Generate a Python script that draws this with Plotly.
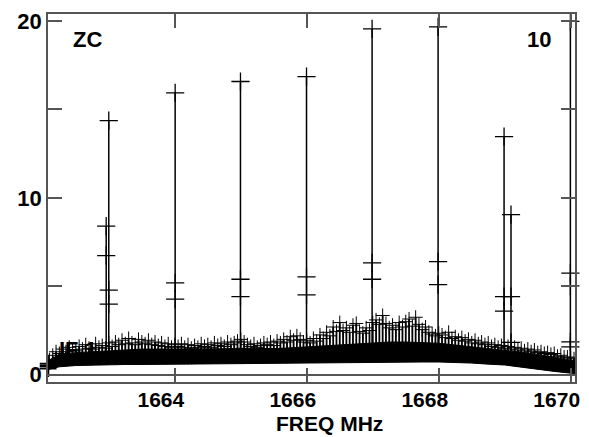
import numpy as np
import plotly.graph_objects as go

# ---------------- data ----------------
# solid bandpass envelope (MHz, lower, upper)
env_freq = [1662.08, 1662.25, 1662.50, 1662.75, 1663.00, 1663.25, 1663.50, 1663.75,
            1664.00, 1664.25, 1664.50, 1664.75, 1665.00, 1665.25, 1665.50, 1665.75,
            1666.00, 1666.25, 1666.50, 1666.75, 1667.00, 1667.25, 1667.50, 1667.75,
            1668.00, 1668.25, 1668.50, 1668.75, 1669.00, 1669.25, 1669.50, 1669.75,
            1670.00, 1670.07]
env_lo = [0.30, 0.45, 0.52, 0.55, 0.57, 0.58, 0.58, 0.59,
          0.60, 0.60, 0.61, 0.62, 0.63, 0.63, 0.64, 0.66,
          0.68, 0.69, 0.70, 0.70, 0.70, 0.71, 0.72, 0.72,
          0.72, 0.70, 0.66, 0.60, 0.55, 0.43, 0.30, 0.19,
          0.09, 0.07]
env_hi = [0.80, 1.15, 1.25, 1.30, 1.38, 1.42, 1.45, 1.45,
          1.45, 1.45, 1.45, 1.47, 1.50, 1.47, 1.48, 1.52,
          1.58, 1.62, 1.70, 1.75, 1.80, 1.85, 1.85, 1.82,
          1.78, 1.68, 1.58, 1.48, 1.40, 1.28, 1.15, 1.00,
          0.85, 0.78]

# channel tops of the noisy spectrum (start 1662.10 MHz, 0.05 MHz channels)
chan_start = 1662.10
chan_width = 0.05
chan_top = [0.85, 1.10, 1.30, 1.20, 1.45, 1.30, 1.55, 1.40, 1.35, 1.60,
            1.45, 1.70, 1.50, 1.45, 1.75, 1.55, 1.65, 1.50, 1.80,
            1.60, 1.85, 1.70, 1.95, 1.75, 2.05, 1.80, 1.70, 2.00, 1.85,
            1.75, 1.95, 1.70, 1.85, 1.65, 1.80, 1.60, 1.75, 1.55, 1.70,
            1.60, 1.75, 1.55, 1.70, 1.50, 1.65, 1.55, 1.75, 1.60, 1.70,
            1.55, 1.80, 1.65, 1.75, 1.60, 1.85, 1.70, 1.80, 1.90, 2.00,
            1.85, 1.70, 1.60, 1.75, 1.55, 1.65, 1.80, 1.70, 1.85, 1.65,
            1.90, 1.80, 2.00, 1.85, 2.15, 1.95, 2.20, 2.00, 1.85, 1.95,
            1.80, 2.05, 1.90, 2.25, 2.05, 2.40, 2.20, 2.70, 2.45, 2.95,
            2.50, 2.65, 2.40, 2.80, 2.90, 2.45, 2.35, 2.65, 2.50, 2.95,
            3.10, 2.85, 3.35, 2.90, 2.65, 2.80, 2.55, 2.95, 2.70, 3.00,
            3.15, 2.75, 3.25, 2.85, 2.55, 2.70, 2.40, 2.30, 2.20, 2.35,
            2.25, 2.10, 2.40, 2.05, 2.15, 1.95, 2.10, 1.90, 2.00, 1.80,
            1.95, 1.75, 1.85, 1.70, 1.80, 1.60, 1.70, 1.55, 1.65, 1.50,
            1.60, 1.45, 1.55, 1.40, 1.50, 1.35, 1.45, 1.30, 1.40, 1.25,
            1.30, 1.20, 1.25, 1.15, 1.20, 1.05, 1.10, 1.00, 1.00, 0.95,
            0.90, 0.85]

# RFI spikes: frequency (MHz) and the plotted amplitudes at that channel
spike_freq = [1662.960, 1662.999, 1664.005, 1664.995, 1665.996, 1666.990,
              1667.990, 1668.990, 1669.095, 1669.995]
spike_vals = [[8.40, 6.73],
              [14.37, 4.78, 3.99],
              [15.94, 5.19, 4.27],
              [16.58, 5.40, 4.42],
              [16.86, 5.53, 4.51],
              [19.55, 6.32, 5.40],
              [19.67, 6.40, 5.10],
              [13.46, 4.42, 3.60],
              [9.05, 4.42, 1.83],
              [19.98, 5.75, 5.02, 1.86, 1.58]]

# edge channels drawn just outside the frame
edge_freq = [1662.08, 1662.08, 1662.08, 1670.08, 1670.08]
edge_vals = [0.35, 0.50, 0.62, 0.22, 0.35]

x_ticks = [1664, 1666, 1668, 1670]
y_ticks = [0, 5, 10, 15, 20]
y_ticktext = ["0", "", "10", "", "20"]

# ---------------- figure ----------------
FONT = "Liberation Sans, Arial, sans-serif"
BLACK = "#000000"
FRAME = "#555555"
FS = 22
FSX = 21

fig = go.Figure()

# solid band
fig.add_trace(go.Scatter(x=env_freq, y=env_lo, mode="lines",
                         line=dict(color=BLACK, width=1), showlegend=False,
                         hoverinfo="skip"))
fig.add_trace(go.Scatter(x=env_freq, y=env_hi, mode="lines", fill="tonexty",
                         fillcolor=BLACK, line=dict(color=BLACK, width=1),
                         showlegend=False, hoverinfo="skip"))

# channel stems
chan_freq = [chan_start + i * chan_width for i in range(len(chan_top))]
base = np.interp(chan_freq, env_freq, env_lo)
sx, sy = [], []
for f, b, t in zip(chan_freq, base, chan_top):
    sx += [f, f, None]
    sy += [b, t, None]
fig.add_trace(go.Scatter(x=sx, y=sy, mode="lines",
                         line=dict(color=BLACK, width=1.8), showlegend=False,
                         hoverinfo="skip"))
fig.add_trace(go.Scatter(x=chan_freq, y=chan_top, mode="markers",
                         marker=dict(symbol="cross-thin", size=10,
                                     line=dict(color=BLACK, width=1)),
                         showlegend=False, hoverinfo="skip"))

# spikes
kx, ky, mx, my = [], [], [], []
for f, vals in zip(spike_freq, spike_vals):
    b = float(np.interp(f, env_freq, env_hi))
    kx += [f, f, None]
    ky += [b, max(vals), None]
    mx += [f] * len(vals)
    my += vals
fig.add_trace(go.Scatter(x=kx, y=ky, mode="lines",
                         line=dict(color=BLACK, width=1.5), showlegend=False,
                         hoverinfo="skip"))
fig.add_trace(go.Scatter(x=mx, y=my, mode="markers", cliponaxis=False,
                         marker=dict(symbol="cross-thin", size=13,
                                     line=dict(color=BLACK, width=1.3)),
                         showlegend=False, hoverinfo="skip"))
fig.add_trace(go.Scatter(x=edge_freq, y=edge_vals, mode="markers", cliponaxis=False,
                         marker=dict(symbol="cross-thin", size=12,
                                     line=dict(color=BLACK, width=2)),
                         showlegend=False, hoverinfo="skip"))

axis_common = dict(showgrid=False, showline=True, linecolor=FRAME, linewidth=1.5,
                   mirror="allticks", ticks="inside", ticklen=14, tickwidth=1.5,
                   tickcolor=FRAME)

fig.update_xaxes(range=[1662.078, 1670.065], tickvals=x_ticks,
                 ticktext=[str(v) for v in x_ticks], zeroline=False,
                 ticklabelshift=-14, ticklabelstandoff=-2,
                 tickfont=dict(family=FONT, size=FSX, color=BLACK, weight="bold"),
                 **axis_common)
fig.update_yaxes(range=[-0.41, 20.395], tickvals=y_ticks, ticktext=y_ticktext,
                 zeroline=True, zerolinecolor=FRAME, zerolinewidth=1.5,
                 ticklabelstandoff=0,
                 tickfont=dict(family=FONT, size=FS, color=BLACK, weight="bold"),
                 **axis_common)

ann_font = dict(family=FONT, size=FS, color=BLACK, weight="bold")
fig.add_annotation(text="ZC", x=0.043, y=0.930, xref="paper", yref="paper",
                   xanchor="left", yanchor="middle", showarrow=False, font=ann_font)
fig.add_annotation(text="10", x=0.9586, y=0.932, xref="paper", yref="paper",
                   xanchor="right", yanchor="middle", showarrow=False, font=ann_font)
fig.add_annotation(text="IF 1", x=0.017, y=0.087, xref="paper", yref="paper",
                   xanchor="left", yanchor="middle", showarrow=False, font=ann_font)
fig.add_annotation(text="FREQ MHz", x=0.534, y=-0.1463, xref="paper", yref="paper",
                   xanchor="center", yanchor="bottom", showarrow=False,
                   borderpad=0, font=dict(family=FONT, size=FSX, color=BLACK,
                                          weight="bold"))

fig.update_layout(width=589, height=437, autosize=False,
                  margin=dict(l=48, r=9, t=13, b=55),
                  paper_bgcolor="white", plot_bgcolor="white",
                  showlegend=False)

fig.write_html("out.html", config={"displayModeBar": False},
               post_script="document.body.style.margin='0px';")
